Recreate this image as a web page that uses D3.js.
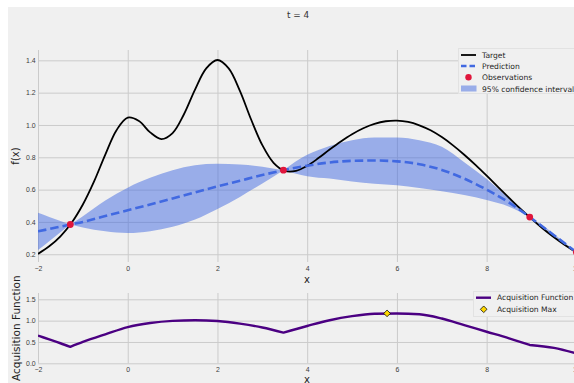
<!DOCTYPE html>
<html>
<head>
<meta charset="utf-8">
<script src="https://cdn.jsdelivr.net/npm/d3@7"></script>
<style>
body { margin: 0; background: #fff; }
svg { display: block; font-family: "DejaVu Sans", sans-serif; }
.grid line { stroke: #cbcbcb; stroke-width: 1; }
.grid path { display: none; }
.grid text { fill: #3c3c3c; font-size: 6.9px; }
</style>
</head>
<body>
<script>
var w = 574, h = 383;

// target curve
var targetX = [-2, -1.75, -1.5, -1.25, -1, -0.75, -0.5, -0.25, 0, 0.25, 0.5, 0.75, 1, 1.25, 1.5, 1.75, 2,
               2.25, 2.5, 2.75, 3, 3.25, 3.5, 3.75, 4, 4.25, 4.5, 4.75, 5, 5.25, 5.5, 5.75, 6,
               6.25, 6.5, 6.75, 7, 7.25, 7.5, 7.75, 8, 8.25, 8.5, 8.75, 9, 9.25, 9.5, 9.75, 10];
var targetY = [0.202, 0.249, 0.311, 0.395, 0.508, 0.651, 0.817, 0.968, 1.046, 1.025, 0.954, 0.913, 0.950, 1.065, 1.219, 1.350, 1.402,
               1.350, 1.211, 1.034, 0.875, 0.766, 0.716, 0.716, 0.747, 0.795, 0.848, 0.898, 0.943, 0.980, 1.007, 1.023, 1.027,
               1.019, 0.998, 0.967, 0.925, 0.874, 0.816, 0.753, 0.686, 0.617, 0.549, 0.482, 0.419, 0.359, 0.305, 0.256, 0.212];

// GP prediction, band and acquisition
var gridX = [-2, -1.75, -1.5, -1.28, -1, -0.5, 0, 0.5, 1, 1.5, 2, 2.5, 3, 3.47, 4, 4.5, 5, 5.5, 6, 6.5, 7, 7.5, 8, 8.5, 8.96, 9.5, 10];
var meanY  = [0.342, 0.356, 0.371, 0.384, 0.400, 0.437, 0.472, 0.508, 0.545, 0.583, 0.620, 0.655, 0.690, 0.720, 0.748, 0.768, 0.778, 0.780, 0.775, 0.757, 0.722, 0.668, 0.600, 0.520, 0.430, 0.318, 0.212];
var upperY = [0.457, 0.431, 0.406, 0.384, 0.435, 0.532, 0.612, 0.673, 0.720, 0.751, 0.760, 0.755, 0.742, 0.720, 0.815, 0.870, 0.906, 0.923, 0.923, 0.905, 0.865, 0.770, 0.665, 0.545, 0.430, 0.326, 0.212];
var lowerY = [0.227, 0.281, 0.336, 0.384, 0.365, 0.342, 0.332, 0.343, 0.370, 0.415, 0.480, 0.555, 0.638, 0.720, 0.683, 0.668, 0.650, 0.637, 0.627, 0.610, 0.590, 0.566, 0.535, 0.494, 0.430, 0.310, 0.212];
var acqY   = [0.650, 0.560, 0.470, 0.385, 0.500, 0.680, 0.850, 0.945, 0.995, 1.010, 0.990, 0.930, 0.840, 0.720, 0.875, 1.010, 1.105, 1.160, 1.168, 1.150, 1.050, 0.895, 0.740, 0.585, 0.430, 0.360, 0.230];

var obsX = [-1.28, 3.47, 8.96, 10];
var obsY = [0.384, 0.720, 0.430, 0.212];
var maxX = [5.78];
var maxY = [1.17];

var xTicks = [-2, 0, 2, 4, 6, 8, 10];
var mainYTicks = [0.2, 0.4, 0.6, 0.8, 1.0, 1.2, 1.4];
var acqYTicks = [0.0, 0.5, 1.0, 1.5];

var svg = d3.select("body").append("svg").attr("width", w).attr("height", h);

// figure background
svg.append("rect").attr("x", 8).attr("y", 7).attr("width", w - 8).attr("height", h - 7).attr("fill", "#f0f0f0");

var left = 38, right = 576.4;
var mainTop = 50, mainBottom = 262;
var acqTop = 293, acqBottom = 363.3;

var xScale = d3.scaleLinear().domain([-2, 10]).range([left, right]);
var yMain = d3.scaleLinear().domain([0.152, 1.464]).range([mainBottom, mainTop]);
var yAcq = d3.scaleLinear().domain([0, 1.648]).range([acqBottom, acqTop]);

var defs = svg.append("defs");
defs.append("clipPath").attr("id", "clipMain").append("rect")
    .attr("x", left).attr("y", mainTop).attr("width", right - left).attr("height", mainBottom - mainTop);
defs.append("clipPath").attr("id", "clipAcq").append("rect")
    .attr("x", left).attr("y", acqTop).attr("width", right - left).attr("height", acqBottom - acqTop);

function drawAxes(yScale, top, bottom, yTicks, yFmt) {
    //Create X grid + labels
    svg.append("g")
        .attr("class", "grid")
        .attr("transform", "translate(0," + bottom + ")")
        .call(d3.axisBottom(xScale).tickValues(xTicks).tickSize(-(bottom - top)).tickPadding(4));

    //Create Y grid + labels
    svg.append("g")
        .attr("class", "grid")
        .attr("transform", "translate(" + left + ",0)")
        .call(d3.axisLeft(yScale).tickValues(yTicks).tickFormat(d3.format(yFmt)).tickSize(-(right - left)).tickPadding(2.3));
}

drawAxes(yMain, mainTop, mainBottom, mainYTicks, ".1f");
drawAxes(yAcq, acqTop, acqBottom, acqYTicks, ".1f");

var grid = gridX.map(function(x, i) {
    return { x: x, mean: meanY[i], up: upperY[i], lo: lowerY[i], acq: acqY[i] };
});
var target = targetX.map(function(x, i) { return { x: x, y: targetY[i] }; });

// pieces between observations, so the band and acquisition keep their kinks
var pieces = [];
var cur = [];
grid.forEach(function(d) {
    cur.push(d);
    if (obsX.indexOf(d.x) >= 0 && cur.length > 1) {
        pieces.push(cur);
        cur = [d];
    }
});
if (cur.length > 1) pieces.push(cur);

var bandArea = d3.area()
    .curve(d3.curveMonotoneX)
    .x(function(d) { return xScale(d.x); })
    .y0(function(d) { return yMain(d.lo); })
    .y1(function(d) { return yMain(d.up); });

var acqLine = d3.line()
    .curve(d3.curveMonotoneX)
    .x(function(d) { return xScale(d.x); })
    .y(function(d) { return yAcq(d.acq); });

var main = svg.append("g").attr("clip-path", "url(#clipMain)");

// 95% band
main.append("path")
    .attr("fill", "#4169e1")
    .attr("fill-opacity", 0.5)
    .attr("d", pieces.map(function(p) { return bandArea(p); }).join(""));

// target
main.append("path")
    .datum(target)
    .attr("fill", "none")
    .attr("stroke", "#000")
    .attr("stroke-width", 1.8)
    .attr("d", d3.line()
        .curve(d3.curveCatmullRom)
        .x(function(d) { return xScale(d.x); })
        .y(function(d) { return yMain(d.y); }));

// prediction
main.append("path")
    .datum(grid)
    .attr("fill", "none")
    .attr("stroke", "#4169e1")
    .attr("stroke-width", 2.6)
    .attr("stroke-dasharray", "8.5,4")
    .attr("d", d3.line()
        .curve(d3.curveMonotoneX)
        .x(function(d) { return xScale(d.x); })
        .y(function(d) { return yMain(d.mean); }));

// observations
main.selectAll("circle.obs")
    .data(obsX)
    .enter()
    .append("circle")
    .attr("class", "obs")
    .attr("cx", function(d) { return xScale(d); })
    .attr("cy", function(d, i) { return yMain(obsY[i]); })
    .attr("r", 3.4)
    .attr("fill", "#e0163c");

// acquisition panel
var acq = svg.append("g").attr("clip-path", "url(#clipAcq)");

acq.append("path")
    .attr("fill", "none")
    .attr("stroke", "#4b0082")
    .attr("stroke-width", 2.4)
    .attr("stroke-linejoin", "round")
    .attr("d", pieces.map(function(p, i) {
        var s = acqLine(p);
        return i > 0 ? "L" + s.slice(1) : s;
    }).join(""));

var diamond = d3.symbol().type(d3.symbolSquare).size(22);
acq.selectAll("path.max")
    .data(maxX)
    .enter()
    .append("path")
    .attr("class", "max")
    .attr("d", diamond)
    .attr("transform", function(d, i) {
        return "translate(" + xScale(d) + "," + yAcq(maxY[i]) + ") rotate(45)";
    })
    .attr("fill", "#ffd700")
    .attr("stroke", "#000")
    .attr("stroke-width", 0.7);

// titles and axis labels
svg.append("text").attr("x", 298).attr("y", 18).attr("text-anchor", "middle")
    .style("font-size", "8.9px").attr("fill", "#333").text("t = 4");

svg.append("text").attr("x", 307).attr("y", 283).attr("text-anchor", "middle")
    .style("font-size", "10px").attr("fill", "#222").text("x");
svg.append("text").attr("x", 307).attr("y", 382.5).attr("text-anchor", "middle")
    .style("font-size", "10px").attr("fill", "#222").text("x");

svg.append("text").attr("transform", "translate(19," + ((mainTop + mainBottom) / 2) + ") rotate(-90)")
    .attr("text-anchor", "middle").style("font-size", "10px").attr("fill", "#222").text("f(x)");
svg.append("text").attr("transform", "translate(19.5," + ((acqTop + acqBottom) / 2) + ") rotate(-90)")
    .attr("text-anchor", "middle").style("font-size", "10.5px").attr("fill", "#222").text("Acquisition Function");

//Legend - main
var lg = svg.append("g").style("font-size", "7.6px");
lg.append("rect").attr("x", 458.5).attr("y", 48.5).attr("width", 130).attr("height", 45)
    .attr("fill", "#f0f0f0").attr("stroke", "#e2e2e2");
lg.append("line").attr("x1", 461).attr("x2", 476).attr("y1", 55).attr("y2", 55)
    .attr("stroke", "#000").attr("stroke-width", 1.8);
lg.append("line").attr("x1", 461).attr("x2", 476).attr("y1", 66).attr("y2", 66)
    .attr("stroke", "#4169e1").attr("stroke-width", 2.6).attr("stroke-dasharray", "5.5,3");
lg.append("circle").attr("cx", 468.5).attr("cy", 77.3).attr("r", 3.2).attr("fill", "#e0163c");
lg.append("rect").attr("x", 461).attr("y", 85.5).attr("width", 15.5).attr("height", 6)
    .attr("fill", "#4169e1").attr("fill-opacity", 0.5);
var labels = ["Target", "Prediction", "Observations", "95% confidence interval"];
lg.selectAll("text").data(labels).enter().append("text")
    .attr("x", 482).attr("y", function(d, i) { return 55 + i * 11.3; }).attr("dy", "0.35em")
    .attr("fill", "#262626").text(function(d) { return d; });

//Legend - acquisition
var lg2 = svg.append("g").style("font-size", "7.6px");
lg2.append("rect").attr("x", 473.5).attr("y", 291.5).attr("width", 110).attr("height", 25)
    .attr("fill", "#f0f0f0").attr("stroke", "#e2e2e2");
lg2.append("line").attr("x1", 476).attr("x2", 491).attr("y1", 297.7).attr("y2", 297.7)
    .attr("stroke", "#4b0082").attr("stroke-width", 2.4);
lg2.append("path").attr("d", diamond).attr("transform", "translate(483.7,309.3) rotate(45)")
    .attr("fill", "#ffd700").attr("stroke", "#000").attr("stroke-width", 0.7);
lg2.selectAll("text").data(["Acquisition Function", "Acquisition Max"]).enter().append("text")
    .attr("x", 497).attr("y", function(d, i) { return 297.7 + i * 11.6; }).attr("dy", "0.35em")
    .attr("fill", "#262626").text(function(d) { return d; });
</script>
</body>
</html>
